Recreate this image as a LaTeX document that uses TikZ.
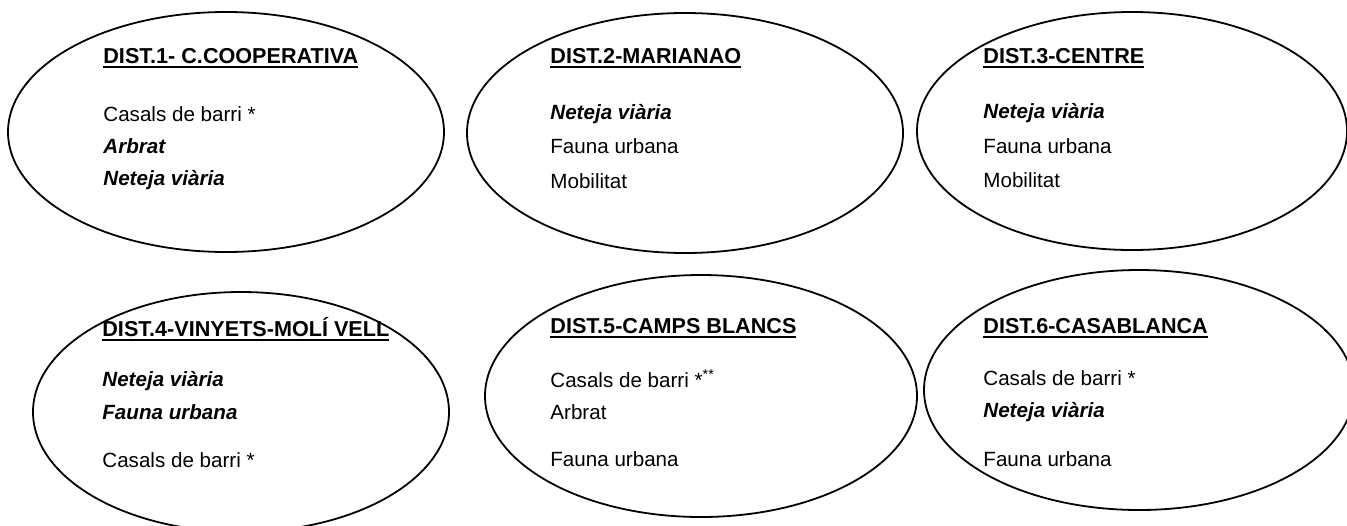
\documentclass[tikz,border=0pt]{standalone}
\usepackage{fontspec}
\setmainfont{Liberation Sans}
\newcommand{\ulbox}[1]{\setbox0\hbox{#1}\rlap{\rule[-2.6pt]{\wd0}{1.1pt}}\box0}
\tikzset{
  distline/.style={line width=0.9pt},
  disttitle/.style={anchor=base west,inner sep=0pt,font=\fontsize{10.8}{12}\selectfont\bfseries},
  distitem/.style={anchor=base west,inner sep=0pt,font=\fontsize{10.3}{12}\selectfont},
}
\newcommand{\hl}[1]{\textbf{\textit{#1}}}
\begin{document}
\begin{tikzpicture}[x=0.5pt,y=-0.5pt]
	\useasboundingbox (0,0) rectangle (1347,525);
	\foreach \cx/\cy/\rx/\ry in {226/132/218/120,685/133/218/120,1132/131/215/119,241/412/208/120,701/396/216/121,1139/390/215/120}{
		\draw[distline] (\cx,\cy) ellipse [x radius=\rx,y radius=\ry];
	}
	% district 1
	\node[disttitle] (t1) at (103,63) {\ulbox{DIST.1- C.COOPERATIVA}};
	\node[distitem] (a1) at (103,121) {Casals de barri *};
	\node[distitem] (b1) at (103,153) {\hl{Arbrat}};
	\node[distitem] (c1) at (103,185) {\hl{Neteja viària}};
	% district 2
	\node[disttitle] (t2) at (550,63) {\ulbox{DIST.2-MARIANAO}};
	\node[distitem] (a2) at (550,119) {\hl{Neteja viària}};
	\node[distitem] (b2) at (550,153) {Fauna urbana};
	\node[distitem] (c2) at (550,188) {Mobilitat};
	% district 3
	\node[disttitle] (t3) at (983,63) {\ulbox{DIST.3-CENTRE}};
	\node[distitem] (a3) at (983,118) {\hl{Neteja viària}};
	\node[distitem] (b3) at (983,153) {Fauna urbana};
	\node[distitem] (c3) at (983,187) {Mobilitat};
	% district 4
	\node[disttitle] (t4) at (102,336) {\ulbox{DIST.4-VINYETS-MOLÍ VELL}};
	\node[distitem] (a4) at (102,386) {\hl{Neteja viària}};
	\node[distitem] (b4) at (102,419) {\hl{Fauna urbana}};
	\node[distitem] (c4) at (102,467) {Casals de barri *};
	% district 5
	\node[disttitle] (t5) at (550,333) {\ulbox{DIST.5-CAMPS BLANCS}};
	\node[distitem] (a5) at (550,387) {Casals de barri *\textsuperscript{**}};
	\node[distitem] (b5) at (550,419) {Arbrat};
	\node[distitem] (c5) at (550,466) {Fauna urbana};
	% district 6
	\node[disttitle] (t6) at (983,333) {\ulbox{DIST.6-CASABLANCA}};
	\node[distitem] (a6) at (983,385) {Casals de barri *};
	\node[distitem] (b6) at (983,417) {\hl{Neteja viària}};
	\node[distitem] (c6) at (983,466) {Fauna urbana};
\end{tikzpicture}
\end{document}
